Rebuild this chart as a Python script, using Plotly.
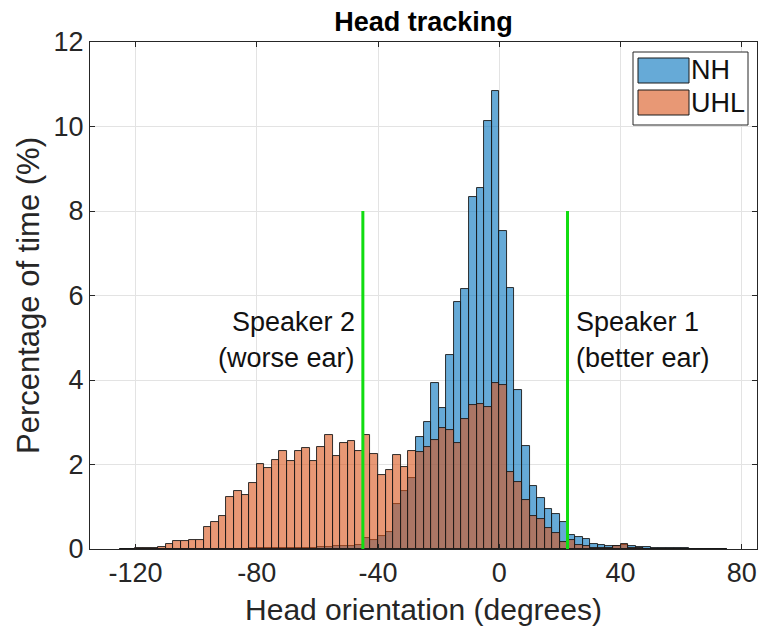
import numpy as np
import plotly.graph_objects as go

# ---- data ----
bin_width = 2.5
bin_left = np.arange(-125, 75, bin_width)  # 80 bins, -125 .. 72.5

nh = [0.01, 0.01, 0.01, 0.01, 0.01, 0.01, 0.01, 0.01, 0.01, 0.01,
      0.01, 0.01, 0.01, 0.01, 0.01, 0.01, 0.01, 0.02, 0.02, 0.02,
      0.02, 0.02, 0.03, 0.03, 0.03, 0.03, 0.04, 0.05, 0.06, 0.07,
      0.08, 0.09, 0.26, 0.21, 0.31, 0.41, 1.07, 1.38, 1.69, 2.65,
      3.01, 3.92, 3.33, 4.59, 5.85, 6.15, 8.33, 8.55, 10.12, 10.85,
      7.52, 6.17, 3.77, 2.44, 1.48, 1.20, 0.95, 0.83, 0.64, 0.32,
      0.29, 0.24, 0.13, 0.10, 0.08, 0.06, 0.09, 0.07, 0.04, 0.05,
      0.02, 0.02, 0.02, 0.02, 0.02, 0.01, 0.01, 0.01, 0.01, 0.01]

uhl = [0.01, 0.01, 0.02, 0.02, 0.03, 0.05, 0.13, 0.19, 0.19, 0.21,
       0.21, 0.51, 0.63, 0.77, 1.22, 1.38, 1.28, 1.56, 2.02, 1.92,
       2.11, 2.32, 2.08, 2.32, 2.38, 2.08, 2.41, 2.69, 2.20, 2.50,
       2.55, 2.33, 2.70, 2.24, 1.76, 1.87, 2.22, 1.95, 2.31, 2.30,
       2.42, 2.57, 2.86, 2.81, 2.50, 3.07, 3.41, 3.44, 3.36, 3.92,
       3.88, 1.82, 1.58, 1.17, 0.77, 0.70, 0.50, 0.37, 0.17, 0.21,
       0.10, 0.06, 0.03, 0.03, 0.03, 0.07, 0.13, 0.03, 0.02, 0.01,
       0.01, 0.01, 0.01, 0.0, 0.0, 0.0, 0.0, 0.0, 0.0, 0.0]

speaker_angles = [-45, 22.5]
speaker_line_top = 8
speaker_labels = [["Speaker 2", "(worse ear)"], ["Speaker 1", "(better ear)"]]

x_ticks = [-120, -80, -40, 0, 40, 80]
x_ticktext = ["-120", "-80", "-40", "0", "40", "80"]
y_ticks = [0, 2, 4, 6, 8, 10, 12]
series_names = ["NH", "UHL"]

# ---- styles ----
FONT = "Liberation Sans, Arial, Helvetica, sans-serif"
TXT = "#262626"
fills = ["rgba(0,114,189,0.6)", "rgba(217,83,25,0.6)"]
GREEN = "#11DD11"

centers = bin_left + bin_width / 2

fig = go.Figure()
for name, vals, col in zip(series_names, [nh, uhl], fills):
    fig.add_trace(go.Bar(
        x=centers, y=vals, width=bin_width, name=name,
        marker=dict(color=col, line=dict(color="#1a1a1a", width=0.9)),
        showlegend=False, hoverinfo="x+y"))

for ang in speaker_angles:
    fig.add_trace(go.Scatter(
        x=[ang, ang], y=[0, speaker_line_top], mode="lines",
        line=dict(color=GREEN, width=3), showlegend=False, hoverinfo="skip"))

# speaker text
for ang, lines in zip(speaker_angles, speaker_labels):
    right = ang < 0
    for k, t in enumerate(lines):
        fig.add_annotation(
            x=ang, y=[5.37, 4.52][k], text=t, showarrow=False,
            xanchor="right" if right else "left",
            xshift=-6 if right else 6,
            font=dict(family=FONT, size=27, color="#111111"))

# manual MATLAB-like legend (paper coords)
W, H = 772, 632
L, R, T, B = 90, 15, 42, 83
pw, ph = W - L - R, H - T - B
def px(x):
    return (x - L) / pw
def py(y):
    return 1 - (y - T) / ph

fig.add_shape(type="rect", xref="paper", yref="paper",
              x0=px(633), x1=px(748), y0=py(125), y1=py(52),
              line=dict(color="#262626", width=1), fillcolor="white", layer="above")
legend_rows = [(58, 83), (90, 115)]
for (y0, y1), name, col in zip(legend_rows, series_names, fills):
    fig.add_shape(type="rect", xref="paper", yref="paper",
                  x0=px(638), x1=px(689), y0=py(y1), y1=py(y0),
                  line=dict(color="#1a1a1a", width=1), fillcolor=col, layer="above")
    fig.add_annotation(xref="paper", yref="paper", x=px(689), y=py((y0 + y1) / 2),
                       text=name, showarrow=False, xanchor="left", yanchor="middle",
                       font=dict(family=FONT, size=27, color="#111111"))

axis_common = dict(
    showline=True, linecolor="#262626", linewidth=1, mirror="allticks",
    ticks="inside", ticklen=5, tickcolor="#262626",
    showgrid=True, gridcolor="#e3e3e3", gridwidth=1, zeroline=False,
    tickfont=dict(family=FONT, size=27, color=TXT),
)

fig.update_layout(
    width=W, height=H,
    margin=dict(l=L, r=R, t=T, b=B),
    plot_bgcolor="white", paper_bgcolor="white",
    barmode="overlay", bargap=0,
    title=dict(text="<b>Head tracking</b>", x=(L + pw / 2) / W, xanchor="center",
               y=1 - 22 / H, yanchor="middle",
               font=dict(family=FONT, size=27, color="#000000")),
    xaxis=dict(range=[-135, 85], tickvals=x_ticks, ticktext=x_ticktext,
               title=dict(text="Head orientation (degrees)", standoff=11,
                          font=dict(family=FONT, size=30, color=TXT)),
               **axis_common),
    yaxis=dict(range=[0, 12], tickvals=y_ticks,
               title=dict(text="Percentage of time (%)", standoff=4,
                          font=dict(family=FONT, size=31, color=TXT)),
               **axis_common),
    showlegend=False,
)

fig.write_html("out.html")
